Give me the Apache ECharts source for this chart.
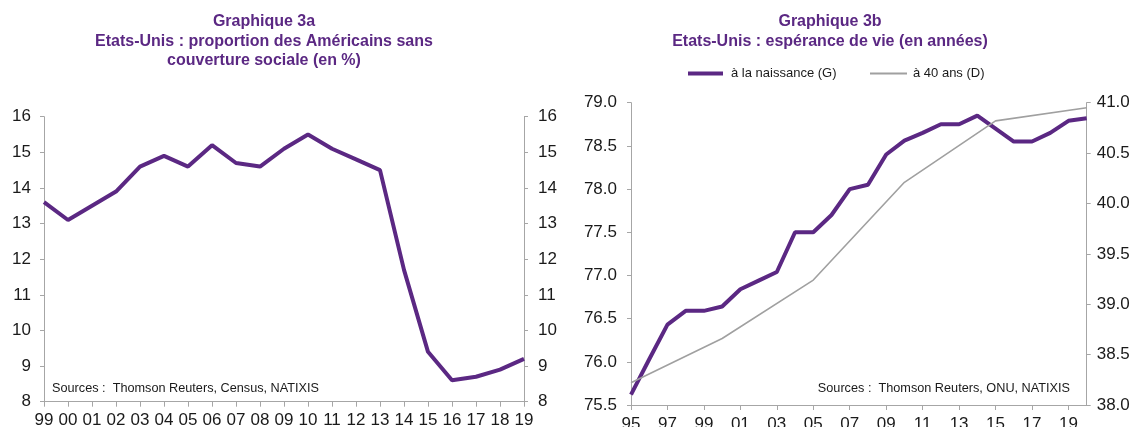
<!DOCTYPE html>
<html>
<head>
<meta charset="utf-8">
<script src="https://cdn.jsdelivr.net/npm/echarts@6/dist/echarts.min.js"></script>
<style>
	html, body { margin: 0; padding: 0; background: #fff; }
	#chart { width: 1136px; height: 427px; }
</style>
</head>
<body>
<div id="chart"></div>
<script>
	// graphique 3a : % sans couverture
	const years_a = ['99', '00', '01', '02', '03', '04', '05', '06', '07', '08', '09', '10', '11', '12', '13', '14', '15', '16', '17', '18', '19'];
	const uninsured = [13.6, 13.1, 13.5, 13.9, 14.6, 14.9, 14.6, 15.2, 14.7, 14.6, 15.1, 15.5, 15.1, 14.8, 14.5, 11.7, 9.4, 8.6, 8.7, 8.9, 9.2];

	// graphique 3b : esperance de vie
	const years_b = ['95', '96', '97', '98', '99', '00', '01', '02', '03', '04', '05', '06', '07', '08', '09', '10', '11', '12', '13', '14', '15', '16', '17', '18', '19', '20'];
	const life_birth = [75.62, 76.03, 76.43, 76.59, 76.59, 76.64, 76.84, 76.94, 77.04, 77.5, 77.5, 77.7, 78.0, 78.05, 78.4, 78.56, 78.65, 78.75, 78.75, 78.85, 78.7, 78.55, 78.55, 78.65, 78.79, 78.82];
	// donnees quinquennales seulement
	const life_40 = [38.22, null, null, null, null, 38.66, null, null, null, null, 39.24, null, null, null, null, 40.21, null, null, null, null, 40.82, null, null, null, null, 40.95];

	const PURPLE = '#5b2883';
	const GREY = '#a0a0a0';
	const AXIS = '#a6a6a6';
	const FONT = '"Liberation Sans", Arial, sans-serif';

	let titleText = (x, y, text) => ({
		type: 'text',
		x: x,
		y: y,
		style: {
			text: text,
			align: 'center',
			verticalAlign: 'top',
			fontFamily: FONT,
			fontSize: 16,
			fontWeight: 'bold',
			lineHeight: 19.5,
			fill: PURPLE
		}
	});

	let sourceText = (x, y, text, align) => ({
		type: 'text',
		x: x,
		y: y,
		style: {
			text: text,
			align: align,
			verticalAlign: 'middle',
			fontFamily: FONT,
			fontSize: 12.7,
			fill: '#1a1a1a'
		}
	});

	let legendItem = (name, left, width, height, pad) => ({
		data: [{ name: name, icon: 'rect' }],
		left: left,
		top: 62,
		itemWidth: width,
		itemHeight: height,
		itemGap: 0,
		textStyle: { fontFamily: FONT, fontSize: 13, color: '#1a1a1a', padding: [0, 0, 0, pad] }
	});

	let yAxisCommon = (gridIndex, position, min, max, interval, margin, digits) => ({
		type: 'value',
		gridIndex: gridIndex,
		position: position,
		min: min,
		max: max,
		interval: interval,
		splitLine: { show: false },
		axisLine: { show: true, lineStyle: { color: AXIS, width: 1 } },
		axisTick: { show: true, length: 4, lineStyle: { color: AXIS } },
		axisLabel: {
			margin: margin,
			fontFamily: FONT,
			fontSize: 17,
			color: '#1a1a1a',
			formatter: v => v.toFixed(digits)
		}
	});

	let xAxisCommon = (gridIndex, data, interval, margin) => ({
		type: 'category',
		gridIndex: gridIndex,
		data: data,
		boundaryGap: false,
		axisLine: { show: true, onZero: false, lineStyle: { color: AXIS, width: 1 } },
		axisTick: { show: true, length: 5, interval: interval, lineStyle: { color: AXIS } },
		axisLabel: {
			interval: interval,
			margin: margin,
			fontFamily: FONT,
			fontSize: 17,
			color: '#1a1a1a'
		}
	});

	let myChart = echarts.init(document.getElementById('chart'), null, { renderer: 'canvas' });
	let option = {
		animation: false,
		backgroundColor: '#fff',
		grid: [
			{ left: 44, right: 612, top: 116.7, bottom: 25.3, outerBoundsMode: 'none' },
			{ left: 631, right: 49.3, top: 102.7, bottom: 22, outerBoundsMode: 'none' }
		],
		legend: [
			legendItem('à la naissance (G)', 683, 35, 4, 3),
			legendItem('à 40 ans (D)', 865, 37, 2, 1)
		],
		xAxis: [
			xAxisCommon(0, years_a, 0, 10),
			xAxisCommon(1, years_b, 1, 11)
		],
		yAxis: [
			yAxisCommon(0, 'left', 8, 16, 1, 13, 0),
			yAxisCommon(0, 'right', 8, 16, 1, 14, 0),
			yAxisCommon(1, 'left', 75.5, 79, 0.5, 14, 1),
			yAxisCommon(1, 'right', 38, 41, 0.5, 10, 1)
		],
		series: [
			{
				name: 'sans couverture',
				type: 'line',
				xAxisIndex: 0,
				yAxisIndex: 0,
				data: uninsured,
				symbol: 'none',
				lineStyle: { color: PURPLE, width: 4 },
				itemStyle: { color: PURPLE }
			},
			{
				name: 'à la naissance (G)',
				type: 'line',
				xAxisIndex: 1,
				yAxisIndex: 2,
				data: life_birth,
				symbol: 'none',
				lineStyle: { color: PURPLE, width: 4 },
				itemStyle: { color: PURPLE }
			},
			{
				name: 'à 40 ans (D)',
				type: 'line',
				xAxisIndex: 1,
				yAxisIndex: 3,
				data: life_40,
				connectNulls: true,
				symbol: 'none',
				lineStyle: { color: GREY, width: 1.6 },
				itemStyle: { color: GREY }
			}
		],
		graphic: [
			titleText(264, 12, 'Graphique 3a\nEtats-Unis : proportion des Américains sans\ncouverture sociale (en %)'),
			titleText(830, 12, 'Graphique 3b\nEtats-Unis : espérance de vie (en années)'),
			sourceText(52, 388, 'Sources :  Thomson Reuters, Census, NATIXIS', 'left'),
			sourceText(1070, 388, 'Sources :  Thomson Reuters, ONU, NATIXIS', 'right')
		]
	};
	myChart.setOption(option);
</script>
</body>
</html>
